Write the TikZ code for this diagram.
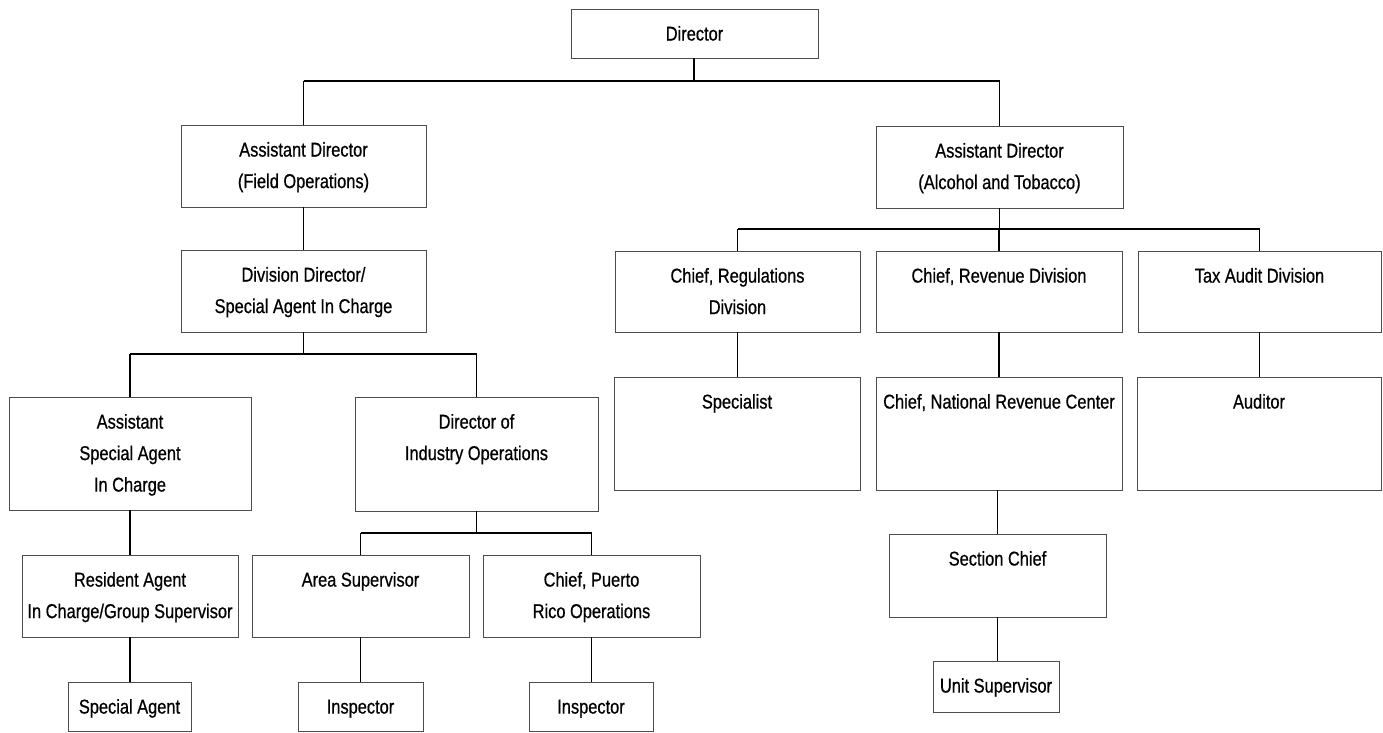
\documentclass[tikz,border=0pt]{standalone}
\usepackage{fontspec}
\setmainfont{Liberation Sans}[FakeStretch=0.82,FakeBold=0.6]
\tikzset{
  obox/.style={draw=black!70, line width=0.9pt, inner sep=0pt, outer sep=0pt, fill=white},
  otext/.style={inner sep=0pt, outer sep=0pt, align=center, anchor=north,
                font=\fontsize{20}{31.5}\selectfont},
  conn/.style={draw=black, line width=1.4pt},
  bar/.style={draw=black, line width=2.2pt},
}
\newcommand\orgbox[6]{%
  \node[obox, minimum width={#4-#2}, minimum height={#5-#3}] (#1) at ({(#2+#4)/2},{(#3+#5)/2}) {};
  \node[otext] (#1t) at ({(#2+#4)/2},{#3+9.5}) {#6};}
\begin{document}
\begin{tikzpicture}[x=1pt,y=-1pt]
\fill[white] (0,0) rectangle (1383,732);
\useasboundingbox (0,0) rectangle (1383,732);
% boxes
\orgbox{dir}{571}{9}{818}{58}{\strut Director}
\orgbox{fo}{181}{125}{426}{207}{\strut Assistant Director\\\strut (Field Operations)}
\orgbox{at}{876}{126}{1123}{208}{\strut Assistant Director\\\strut (Alcohol and Tobacco)}
\orgbox{dd}{181}{250}{426}{332}{\strut Division Director/\\\strut Special Agent In Charge}
\orgbox{regs}{615}{251}{860}{332}{\strut Chief, Regulations\\\strut Division}
\orgbox{rev}{876}{251}{1122}{332}{\strut Chief, Revenue Division}
\orgbox{tax}{1138}{251}{1381}{332}{\strut Tax Audit Division}
\orgbox{asac}{9}{397}{251}{510}{\strut Assistant\\\strut Special Agent\\\strut In Charge}
\orgbox{dio}{355}{397}{598}{511}{\strut Director of\\\strut Industry Operations}
\orgbox{spec}{614}{377}{860}{490}{\strut Specialist}
\orgbox{nrc}{876}{377}{1122}{490}{\strut Chief, National Revenue Center}
\orgbox{aud}{1137}{377}{1381}{490}{\strut Auditor}
\orgbox{sc}{889}{534}{1106}{617}{\strut Section Chief}
\orgbox{ra}{22}{555}{238}{637}{\strut Resident Agent\\\strut In Charge/Group Supervisor}
\orgbox{as}{252}{555}{469}{637}{\strut Area Supervisor}
\orgbox{pr}{483}{555}{700}{637}{\strut Chief, Puerto\\\strut Rico Operations}
\orgbox{sa}{68}{682}{191}{731}{\strut Special Agent}
\orgbox{insa}{298}{682}{423}{731}{\strut Inspector}
\orgbox{insb}{529}{682}{653}{731}{\strut Inspector}
\orgbox{us}{933}{661}{1059}{712}{\strut Unit Supervisor}
% bar junctions
\coordinate (j1) at (694,81);
\coordinate (j2) at (303.5,354);
\coordinate (j3) at (999.5,229);
\coordinate (j4) at (476.5,533);
% connectors
\draw[conn] (dir.south -| j1) -- (j1);
\draw[bar] (fo.north |- j1) -- (at.north |- j1);
\draw[conn] (fo.north) -- (fo.north |- j1);
\draw[conn] (at.north) -- (at.north |- j1);
\draw[conn] (fo.south) -- (fo.south |- dd.north);
\draw[conn] (dd.south) -- (j2);
\draw[bar] (asac.north |- j2) -- (dio.north |- j2);
\draw[conn] (asac.north) -- (asac.north |- j2);
\draw[conn] (dio.north) -- (dio.north |- j2);
\draw[conn] (asac.south) -- (asac.south |- ra.north);
\draw[conn] (ra.south) -- (ra.south |- sa.north);
\draw[conn] (dio.south) -- (j4);
\draw[bar] (as.north |- j4) -- (pr.north |- j4);
\draw[conn] (as.north) -- (as.north |- j4);
\draw[conn] (pr.north) -- (pr.north |- j4);
\draw[conn] (as.south) -- (as.south |- insa.north);
\draw[conn] (pr.south) -- (pr.south |- insb.north);
\draw[conn] (at.south) -- (j3);
\draw[bar] (regs.north |- j3) -- (tax.north |- j3);
\draw[conn] (regs.north) -- (regs.north |- j3);
\draw[conn] (rev.north) -- (rev.north |- j3);
\draw[conn] (tax.north) -- (tax.north |- j3);
\draw[conn] (regs.south) -- (regs.south |- spec.north);
\draw[conn] (rev.south) -- (rev.south |- nrc.north);
\draw[conn] (tax.south) -- (tax.south |- aud.north);
\draw[conn] (sc.north) -- (sc.north |- nrc.south);
\draw[conn] (sc.south) -- (sc.south |- us.north);
\end{tikzpicture}
\end{document}
